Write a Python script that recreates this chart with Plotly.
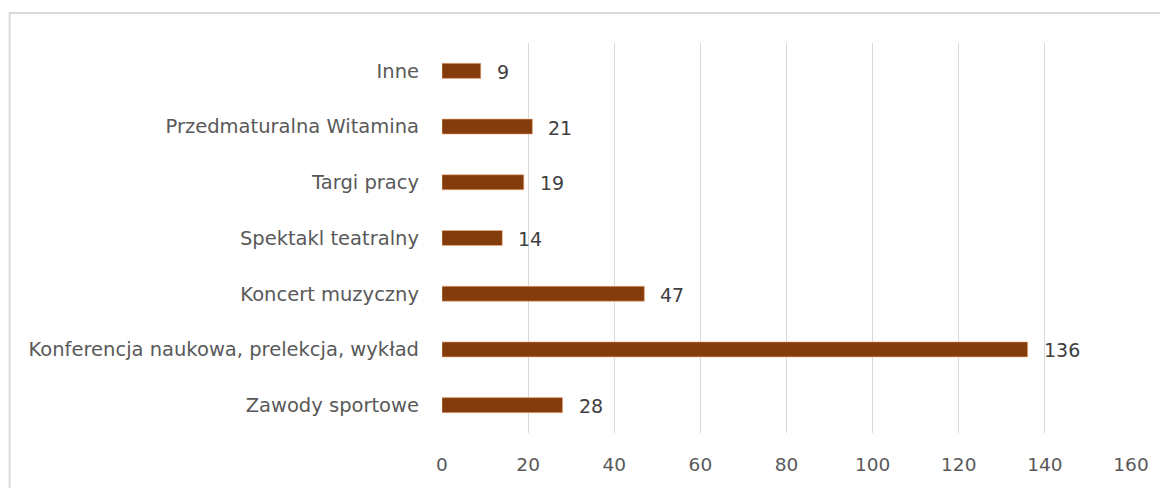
import plotly.graph_objects as go

categories = [
    "Zawody sportowe",
    "Konferencja naukowa, prelekcja, wykład",
    "Koncert muzyczny",
    "Spektakl teatralny",
    "Targi pracy",
    "Przedmaturalna Witamina",
    "Inne",
]
values = [28, 136, 47, 14, 19, 21, 9]
x_ticks = [0, 20, 40, 60, 80, 100, 120, 140, 160]

BAR = "#843C0C"
FONT = "DejaVu Sans"

fig = go.Figure(
    go.Bar(
        y=categories,
        x=values,
        orientation="h",
        width=0.27,
        marker=dict(color=BAR, line=dict(color="#F4B183", width=0.6)),
        hoverinfo="x+y",
    )
)

for c, v in zip(categories, values):
    fig.add_annotation(
        x=v, y=c, text=str(v), showarrow=False,
        xanchor="left", xshift=14, yshift=-1,
        font=dict(family=FONT, size=19, color="#404040"),
    )

# outer chart border (light grey); page has an 8px body offset
fig.add_shape(
    type="rect", xref="paper", yref="paper",
    x0=-0.6275, x1=1.2, y0=-0.3, y1=1.0769,
    line=dict(color="#D9D9D9", width=2), fillcolor="rgba(0,0,0,0)",
    layer="below",
)

fig.update_layout(
    width=1168, height=488,
    margin=dict(l=434, r=45, t=35, b=63),
    paper_bgcolor="white", plot_bgcolor="white",
    showlegend=False,
    font=dict(family=FONT, size=18, color="#595959"),
    xaxis=dict(
        range=[0, 160], tickvals=x_ticks, ticktext=[str(t) for t in x_ticks],
        showgrid=True, gridcolor="#D9D9D9", gridwidth=1.3,
        zeroline=False, showline=False, ticks="",
        ticklabelstandoff=18, tickfont=dict(size=18.5, color="#595959"),
        fixedrange=True,
    ),
    yaxis=dict(
        categoryorder="array", categoryarray=categories,
        showgrid=False, zeroline=False, showline=False, ticks="",
        ticklabelstandoff=22, tickfont=dict(size=19.5, color="#595959"),
        fixedrange=True,
    ),
)

fig.write_html("out.html")
